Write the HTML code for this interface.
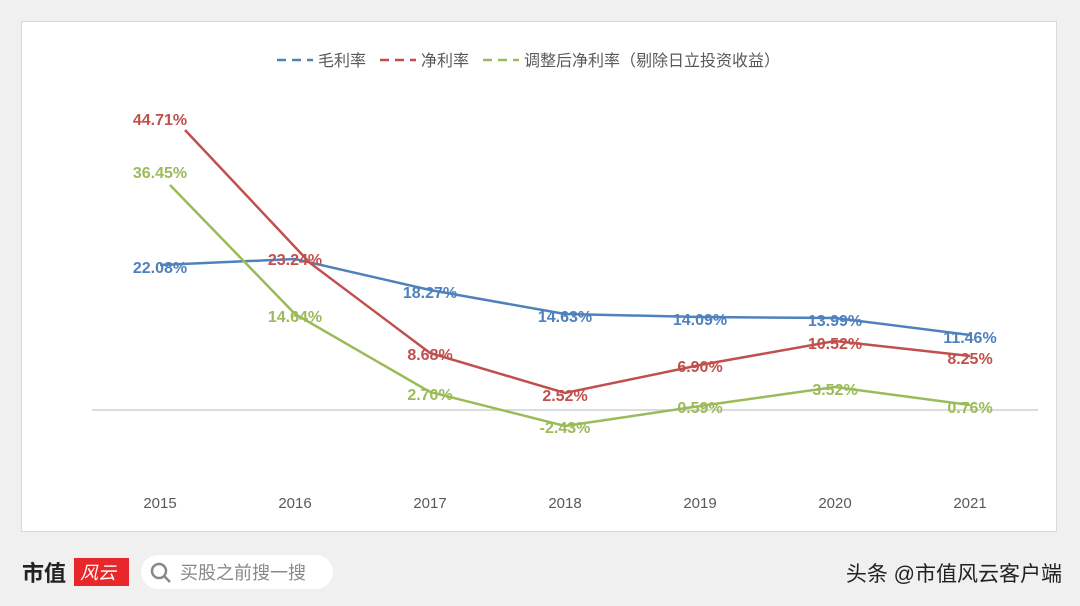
<!DOCTYPE html>
<html><head><meta charset="utf-8"><style>
body{margin:0;width:1080px;height:606px;background:#f0f0f0;overflow:hidden;font-family:"Liberation Sans","Noto Sans CJK SC",sans-serif;position:relative}
</style></head><body>
<svg width="1080" height="606" style="position:absolute;left:0;top:0" font-family="Liberation Sans, Noto Sans CJK SC, sans-serif">
<rect x="21.5" y="21.5" width="1035" height="510" fill="#fff" stroke="#d9d9d9"/>
<line x1="92" y1="410" x2="1038" y2="410" stroke="#d0d0d0" stroke-width="1.5"/>
<g font-size="15" fill="#595959" text-anchor="middle">
<text x="160" y="508">2015</text><text x="295" y="508">2016</text><text x="430" y="508">2017</text><text x="565" y="508">2018</text><text x="700" y="508">2019</text><text x="835" y="508">2020</text><text x="970" y="508">2021</text>
</g>
<g font-size="16" fill="#595959">
<line x1="277" y1="60" x2="313" y2="60" stroke="#4f81bd" stroke-width="2.5" stroke-dasharray="9,6"/>
<text x="318" y="66">毛利率</text>
<line x1="380" y1="60" x2="416" y2="60" stroke="#c0504d" stroke-width="2.5" stroke-dasharray="9,6"/>
<text x="421" y="66">净利率</text>
<line x1="483" y1="60" x2="519" y2="60" stroke="#9bbb59" stroke-width="2.5" stroke-dasharray="9,6"/>
<text x="524" y="66">调整后净利率（剔除日立投资收益）</text>
</g>
<g fill="none" stroke-width="2.5">
<polyline stroke="#4f81bd" points="160,265 295,259 430,290 565,314 700,317 835,318 970,335"/>
<polyline stroke="#c0504d" points="185,130 310,263 430,353 565,393 700,365 835,341 970,356"/>
<polyline stroke="#9bbb59" points="170,185 295,314 430,392 565,426 700,406 835,387 970,405"/>
</g>
<g font-size="16" font-weight="bold" text-anchor="middle">
<g fill="#4f81bd"><text x="160" y="273">22.08%</text><text x="430" y="298">18.27%</text><text x="565" y="322">14.63%</text><text x="700" y="325">14.09%</text><text x="835" y="326">13.99%</text><text x="970" y="343">11.46%</text></g>
<g fill="#c0504d"><text x="160" y="125">44.71%</text><text x="295" y="265">23.24%</text><text x="430" y="360">8.68%</text><text x="565" y="401">2.52%</text><text x="700" y="372">6.90%</text><text x="835" y="349">10.52%</text><text x="970" y="364">8.25%</text></g>
<g fill="#9bbb59"><text x="160" y="178">36.45%</text><text x="295" y="322">14.64%</text><text x="430" y="400">2.70%</text><text x="565" y="433">-2.43%</text><text x="700" y="413">0.59%</text><text x="835" y="395">3.52%</text><text x="970" y="413">0.76%</text></g>
</g>
<text x="22" y="581" font-size="22" font-weight="bold" fill="#222">市值</text>
<rect x="74" y="558" width="55" height="28" fill="#e8272a"/>
<text x="80" y="579" font-size="18" fill="#fff" font-style="italic">风云</text>
<rect x="141" y="555" width="192" height="34" rx="17" fill="#fff"/>
<circle cx="159" cy="571" r="7" fill="none" stroke="#888" stroke-width="2.5"/>
<line x1="164" y1="576" x2="170" y2="582" stroke="#888" stroke-width="2.5"/>
<text x="180" y="579" font-size="18" fill="#888">买股之前搜一搜</text>
<text x="1062" y="581" font-size="21" fill="#222" text-anchor="end">头条 @市值风云客户端</text>
</svg>
</body></html>
